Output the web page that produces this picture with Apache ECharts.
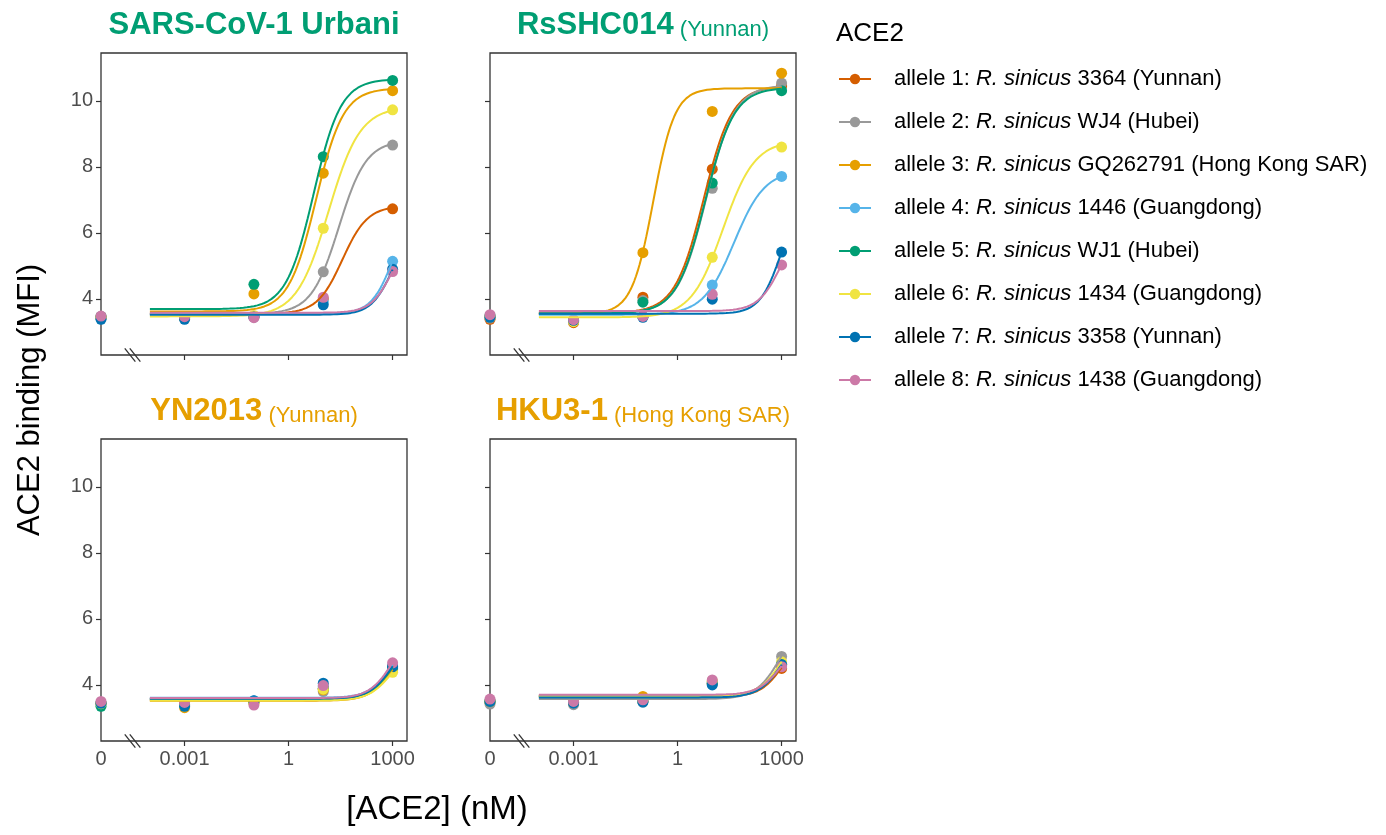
<!DOCTYPE html>
<html>
<head>
<meta charset="utf-8">
<script src="https://cdn.jsdelivr.net/npm/echarts@6/dist/echarts.min.js"></script>
<style>
  html, body { margin: 0; background: #fff; }
  #chart { width: 1386px; height: 835px; }
</style>
</head>
<body>
<div id="chart"></div>
<script>
// ACE2 binding curves, 4 spike panels x 8 bat ACE2 alleles
var alleles = ['allele 1', 'allele 2', 'allele 3', 'allele 4', 'allele 5', 'allele 6', 'allele 7', 'allele 8'];
var strains = ['3364 (Yunnan)', 'WJ4 (Hubei)', 'GQ262791 (Hong Kong SAR)', '1446 (Guangdong)',
  'WJ1 (Hubei)', '1434 (Guangdong)', '3358 (Yunnan)', '1438 (Guangdong)'];
var colors = ['#D55E00', '#999999', '#E69F00', '#56B4E9', '#009E73', '#F0E442', '#0072B2', '#CC79A7'];

var panelNames = ['SARS-CoV-1 Urbani', 'RsSHC014', 'YN2013', 'HKU3-1'];
var panelRegions = ['', '(Yunnan)', '(Yunnan)', '(Hong Kong SAR)'];
var panelColors = ['#009E73', '#009E73', '#E69F00', '#E69F00'];

// concentrations (nM) of the measured points
var conc = [0, 0.001, 0.1, 10, 1000];
var tickConc = [0, 0.001, 1, 1000];
var tickLabels = ['0', '0.001', '1', '1000'];
var yTicks = [4, 6, 8, 10];

// measured MFI, one row per allele, columns follow conc
var urbaniPts = [
  [3.42, 3.42, 3.46, 4.00, 6.73],
  [3.44, 3.43, 3.47, 4.82, 8.66],
  [3.45, 3.41, 4.15, 7.81, 10.31],
  [3.43, 3.42, 3.46, 3.92, 5.14],
  [3.47, 3.44, 4.44, 8.31, 10.62],
  [3.44, 3.43, 3.50, 6.14, 9.73],
  [3.38, 3.38, 3.45, 3.82, 4.90],
  [3.48, 3.46, 3.43, 4.05, 4.83]
];
var rsshcPts = [
  [3.38, 3.28, 4.05, 7.93, 10.45],
  [3.42, 3.33, 3.95, 7.35, 10.54],
  [3.45, 3.32, 5.40, 9.68, 10.84],
  [3.47, 3.34, 3.47, 4.42, 7.71],
  [3.49, 3.33, 3.90, 7.51, 10.31],
  [3.46, 3.31, 3.46, 5.26, 8.60],
  [3.44, 3.35, 3.44, 3.99, 5.42],
  [3.52, 3.37, 3.47, 4.14, 5.03]
];
var yn2013Pts = [
  [3.45, 3.40, 3.48, 3.88, 4.55],
  [3.42, 3.38, 3.47, 3.80, 4.50],
  [3.44, 3.31, 3.46, 3.85, 4.45],
  [3.46, 3.40, 3.52, 3.95, 4.58],
  [3.35, 3.39, 3.50, 3.90, 4.52],
  [3.43, 3.36, 3.45, 3.87, 4.38],
  [3.44, 3.35, 3.52, 4.05, 4.55],
  [3.50, 3.47, 3.39, 3.98, 4.67]
];
var hku3Pts = [
  [3.48, 3.45, 3.55, 4.05, 4.50],
  [3.42, 3.40, 3.48, 4.02, 4.86],
  [3.50, 3.47, 3.65, 4.10, 4.62],
  [3.52, 3.48, 3.52, 4.08, 4.65],
  [3.50, 3.46, 3.50, 4.05, 4.60],
  [3.51, 3.48, 3.52, 4.12, 4.70],
  [3.50, 3.45, 3.48, 4.00, 4.62],
  [3.57, 3.50, 3.55, 4.15, 4.55]
];

// fitted curves: [bottom, top, log10 EC50, hill slope]
var urbaniFit = [
  [3.55, 6.82, 1.55, 1.2],
  [3.55, 8.80, 1.45, 1.1],
  [3.62, 10.38, 0.79, 1.1],
  [3.55, 6.75, 3.0, 1.4],
  [3.69, 10.66, 0.72, 1.1],
  [3.47, 9.82, 1.15, 0.95],
  [3.52, 6.25, 3.0, 1.4],
  [3.58, 6.10, 3.0, 1.4]
];
var rsshcFit = [
  [3.58, 10.45, 0.75, 1.05],
  [3.57, 10.48, 0.82, 1.05],
  [3.55, 10.38, -0.70, 1.4],
  [3.52, 7.90, 1.63, 0.98],
  [3.56, 10.40, 0.80, 1.05],
  [3.44, 8.80, 1.31, 0.95],
  [3.55, 7.30, 3.0, 1.4],
  [3.63, 6.45, 3.0, 1.3]
];
var yn2013Fit = [
  [3.56, 5.60, 3.0, 1.3],
  [3.55, 5.50, 3.0, 1.3],
  [3.52, 5.40, 3.0, 1.3],
  [3.61, 5.60, 3.0, 1.3],
  [3.57, 5.50, 3.0, 1.3],
  [3.53, 5.25, 3.0, 1.3],
  [3.58, 5.55, 3.0, 1.3],
  [3.60, 5.75, 3.0, 1.3]
];
var hku3Fit = [
  [3.65, 5.40, 3.0, 1.4],
  [3.57, 6.20, 3.0, 1.2],
  [3.68, 5.60, 3.0, 1.3],
  [3.66, 5.65, 3.0, 1.3],
  [3.65, 5.55, 3.0, 1.3],
  [3.65, 5.75, 3.0, 1.3],
  [3.62, 5.60, 3.0, 1.3],
  [3.70, 5.45, 3.0, 1.3]
];

var panelPts = [urbaniPts, rsshcPts, yn2013Pts, hku3Pts];
var panelFit = [urbaniFit, rsshcFit, yn2013Fit, hku3Fit];

var ZERO_POS = -5.41;   // where 0 nM sits on the log10 axis
var X_MAX = 3.415;
var BREAK_POS = -4.5;
var Y_MIN = 2.3, Y_MAX = 11.45;
var FONT = "'Liberation Sans', Arial, Helvetica, sans-serif";

function toX(c) { return c === 0 ? ZERO_POS : Math.log10(c); }
var tickPos = tickConc.map(toX);

function fitCurve(p) {
  var out = [];
  for (var k = 0; k <= 140; k++) {
    var x = -4 + k * 0.05;
    out.push([x, p[0] + (p[1] - p[0]) / (1 + Math.pow(10, (p[2] - x) * p[3]))]);
  }
  return out;
}

var gridBox = [
  { left: 101, top: 53 }, { left: 490, top: 53 },
  { left: 101, top: 439 }, { left: 490, top: 439 }
];

var grids = [], xAxes = [], yAxes = [], titles = [], series = [];
gridBox.forEach(function(g, i) {
  grids.push({
    left: g.left, top: g.top, width: 306, height: 302,
    show: true, borderColor: '#333333', borderWidth: 1.3, backgroundColor: 'transparent'
  });
  xAxes.push({
    gridIndex: i, type: 'value', min: ZERO_POS, max: X_MAX,
    axisLine: { show: false, onZero: false }, splitLine: { show: false },
    axisTick: { show: true, customValues: tickPos.slice(1), length: 5, lineStyle: { color: '#333', width: 1.2 } },
    axisLabel: {
      show: i >= 2, customValues: tickPos, margin: 8,
      color: '#4D4D4D', fontSize: 20, fontFamily: FONT,
      formatter: function(v) {
        for (var k = 0; k < tickPos.length; k++) if (Math.abs(tickPos[k] - v) < 1e-6) return tickLabels[k];
        return '';
      }
    }
  });
  yAxes.push({
    gridIndex: i, type: 'value', min: Y_MIN, max: Y_MAX,
    axisLine: { show: false, onZero: false }, splitLine: { show: false },
    axisTick: { show: true, customValues: yTicks, length: 5, lineStyle: { color: '#333', width: 1.2 } },
    axisLabel: { show: i % 2 === 0, customValues: yTicks, margin: 8, color: '#4D4D4D', fontSize: 20, fontFamily: FONT }
  });
  var txt = '{b|' + panelNames[i] + '}' + (panelRegions[i] ? '{s| ' + panelRegions[i] + '}' : '');
  titles.push({
    text: txt, left: g.left + 153, top: g.top - 48, textAlign: 'center', padding: 0,
    textStyle: {
      rich: {
        b: { fontSize: 31, fontWeight: 'bold', color: panelColors[i], fontFamily: FONT, lineHeight: 36, verticalAlign: 'bottom' },
        s: { fontSize: 22, fontWeight: 'normal', color: panelColors[i], fontFamily: FONT, lineHeight: 36, verticalAlign: 'bottom' }
      }
    }
  });
});

titles.push({
  text: 'ACE2', left: 836, top: 21, padding: 0,
  textStyle: { fontSize: 26, fontWeight: 'normal', color: '#000', fontFamily: FONT }
});

// fitted curves
panelFit.forEach(function(fits, i) {
  fits.forEach(function(p, j) {
    series.push({
      name: alleles[j], type: 'line', xAxisIndex: i, yAxisIndex: i,
      data: fitCurve(p), symbol: 'circle', symbolSize: 10, showSymbol: false,
      color: colors[j], lineStyle: { width: 2, color: colors[j] }, silent: true
    });
  });
});
// measured points
panelPts.forEach(function(pts, i) {
  pts.forEach(function(row, j) {
    series.push({
      name: alleles[j], type: 'scatter', xAxisIndex: i, yAxisIndex: i,
      data: row.map(function(v, k) { return [toX(conc[k]), v]; }),
      symbol: 'circle', symbolSize: 11, color: colors[j], itemStyle: { opacity: 1 }
    });
  });
});

var chart = echarts.init(document.getElementById('chart'), null, { renderer: 'canvas' });
chart.setOption({
  animation: false,
  backgroundColor: '#ffffff',
  textStyle: { fontFamily: FONT },
  title: titles,
  grid: grids,
  xAxis: xAxes,
  yAxis: yAxes,
  legend: {
    data: alleles, orient: 'vertical', left: 838, top: 68, padding: 0,
    itemWidth: 32, itemHeight: 13, itemGap: 21,
    formatter: function(name) {
      var k = alleles.indexOf(name);
      return '{n0|' + name + ': }{i|R. sinicus}{n| ' + strains[k] + '}';
    },
    textStyle: {
      rich: {
        n0: { fontSize: 22, color: '#000', fontFamily: FONT, padding: [0, 0, 0, 18] },
        i: { fontSize: 22, color: '#000', fontFamily: FONT, fontStyle: 'italic' },
        n: { fontSize: 22, color: '#000', fontFamily: FONT }
      }
    }
  },
  series: series
});

// axis titles and the "\\" marks of the broken x axis
var gfx = [
  { type: 'text', x: 30, y: 400, rotation: Math.PI / 2,
    style: { text: 'ACE2 binding (MFI)', fontSize: 31, fontFamily: FONT, fill: '#000', align: 'center', verticalAlign: 'middle', textAlign: 'center', textVerticalAlign: 'middle' } },
  { type: 'text', x: 437, y: 810,
    style: { text: '[ACE2] (nM)', fontSize: 33, fontFamily: FONT, fill: '#000', align: 'center', verticalAlign: 'middle', textAlign: 'center', textVerticalAlign: 'middle' } }
];
for (var i = 0; i < 4; i++) {
  var p = chart.convertToPixel({ gridIndex: i }, [BREAK_POS, Y_MIN]);
  [-2.5, 2.5].forEach(function(dx) {
    gfx.push({ type: 'line', shape: { x1: p[0] + dx - 5.3, y1: p[1] - 6.7, x2: p[0] + dx + 5.3, y2: p[1] + 6.7 },
      style: { stroke: '#333', lineWidth: 1.3 }, z: 10 });
  });
}
chart.setOption({ graphic: gfx });
</script>
</body>
</html>
